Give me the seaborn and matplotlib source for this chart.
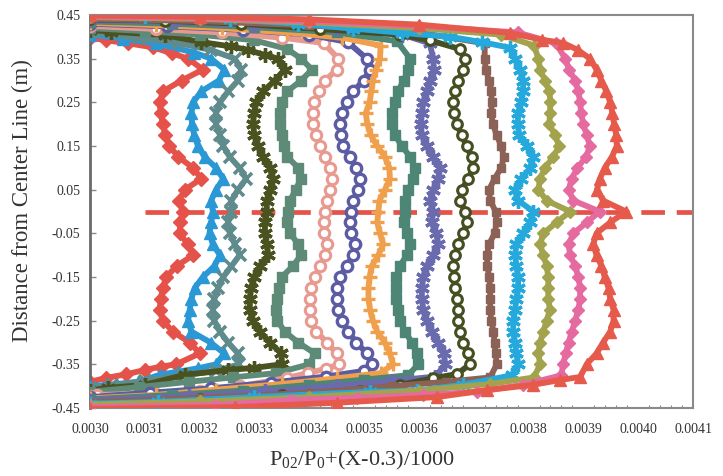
import matplotlib
matplotlib.use("Agg")
import matplotlib.pyplot as plt
import pandas as pd
import seaborn as sns
from matplotlib.ticker import MultipleLocator, FormatStrFormatter

# ---------------------------------------------------------------------------
# Total-pressure profiles across the duct, one curve per measuring station.
# Core region: shared y grid (m); wall regions: separate short lists.
# ---------------------------------------------------------------------------
Y_CORE = [0.35, 0.325, 0.30, 0.275, 0.25, 0.225, 0.20, 0.175, 0.15, 0.125,
          0.10, 0.075, 0.05, 0.025, 0.0, -0.025, -0.05, -0.075, -0.10,
          -0.125, -0.15, -0.175, -0.20, -0.225, -0.25, -0.275, -0.30,
          -0.325, -0.35]

S01 = [0.003179, 0.003206, 0.003167, 0.003133, 0.003127, 0.003129, 0.003133, 0.003137, 0.003145, 0.003161,
       0.003188, 0.003203, 0.003173, 0.003162, 0.003170, 0.003164, 0.003164, 0.003178, 0.003188, 0.003158,
       0.003139, 0.003133, 0.003129, 0.003127, 0.003133, 0.003151, 0.003182, 0.003200, 0.003157]
S02 = [0.003221, 0.003245, 0.003235, 0.003203, 0.003188, 0.003185, 0.003186, 0.003190, 0.003197, 0.003209,
       0.003230, 0.003243, 0.003230, 0.003221, 0.003224, 0.003221, 0.003218, 0.003224, 0.003237, 0.003227,
       0.003206, 0.003191, 0.003185, 0.003182, 0.003179, 0.003185, 0.003220, 0.003245, 0.003230]
S03 = [0.003264, 0.003276, 0.003270, 0.003252, 0.003237, 0.003230, 0.003230, 0.003237, 0.003243, 0.003255,
       0.003273, 0.003285, 0.003270, 0.003258, 0.003258, 0.003252, 0.003255, 0.003264, 0.003273, 0.003258,
       0.003243, 0.003234, 0.003227, 0.003224, 0.003227, 0.003237, 0.003252, 0.003270, 0.003272]
S04 = [0.003343, 0.003355, 0.003337, 0.003316, 0.003303, 0.003299, 0.003297, 0.003300, 0.003306, 0.003316,
       0.003328, 0.003334, 0.003328, 0.003322, 0.003322, 0.003319, 0.003319, 0.003322, 0.003325, 0.003310,
       0.003300, 0.003294, 0.003291, 0.003291, 0.003297, 0.003310, 0.003328, 0.003349, 0.003350]
S05 = [0.003385, 0.003405, 0.003385, 0.003360, 0.003350, 0.003347, 0.003347, 0.003350, 0.003353, 0.003360,
       0.003380, 0.003385, 0.003375, 0.003365, 0.003362, 0.003360, 0.003365, 0.003380, 0.003385, 0.003370,
       0.003350, 0.003345, 0.003342, 0.003340, 0.003342, 0.003355, 0.003380, 0.003410, 0.003400]
S06 = [0.003453, 0.003450, 0.003429, 0.003417, 0.003409, 0.003406, 0.003407, 0.003412, 0.003420, 0.003429,
       0.003437, 0.003441, 0.003438, 0.003432, 0.003429, 0.003426, 0.003426, 0.003432, 0.003429, 0.003420,
       0.003410, 0.003404, 0.003401, 0.003401, 0.003404, 0.003413, 0.003432, 0.003450, 0.003455]
S07 = [0.003505, 0.003511, 0.003499, 0.003480, 0.003468, 0.003459, 0.003456, 0.003457, 0.003462, 0.003474,
       0.003486, 0.003492, 0.003489, 0.003480, 0.003477, 0.003474, 0.003477, 0.003483, 0.003480, 0.003468,
       0.003456, 0.003450, 0.003450, 0.003453, 0.003459, 0.003471, 0.003486, 0.003505, 0.003514]
S08 = [0.003529, 0.003522, 0.003516, 0.003513, 0.003510, 0.003503, 0.003506, 0.003512, 0.003524, 0.003538,
       0.003546, 0.003547, 0.003538, 0.003528, 0.003526, 0.003524, 0.003529, 0.003535, 0.003526, 0.003514,
       0.003510, 0.003508, 0.003508, 0.003511, 0.003516, 0.003524, 0.003538, 0.003547, 0.003553]
S09 = [0.003584, 0.003581, 0.003572, 0.003562, 0.003556, 0.003550, 0.003550, 0.003556, 0.003569, 0.003584,
       0.003593, 0.003590, 0.003581, 0.003575, 0.003575, 0.003572, 0.003578, 0.003584, 0.003578, 0.003565,
       0.003559, 0.003558, 0.003558, 0.003561, 0.003565, 0.003575, 0.003587, 0.003596, 0.003599]
S10 = [0.003626, 0.003627, 0.003620, 0.003614, 0.003608, 0.003605, 0.003603, 0.003605, 0.003614, 0.003626,
       0.003638, 0.003635, 0.003626, 0.003620, 0.003626, 0.003623, 0.003632, 0.003635, 0.003626, 0.003614,
       0.003608, 0.003605, 0.003605, 0.003608, 0.003614, 0.003623, 0.003635, 0.003645, 0.003648]
S11 = [0.003684, 0.003681, 0.003672, 0.003666, 0.003663, 0.003664, 0.003669, 0.003678, 0.003687, 0.003696,
       0.003699, 0.003690, 0.003678, 0.003675, 0.003684, 0.003687, 0.003681, 0.003672, 0.003666, 0.003663,
       0.003664, 0.003666, 0.003669, 0.003672, 0.003672, 0.003675, 0.003681, 0.003690, 0.003693]
S12 = [0.003720, 0.003722, 0.003728, 0.003732, 0.003733, 0.003732, 0.003735, 0.003742, 0.003750, 0.003755,
       0.003750, 0.003738, 0.003728, 0.003730, 0.003740, 0.003742, 0.003738, 0.003728, 0.003724, 0.003725,
       0.003728, 0.003730, 0.003730, 0.003730, 0.003732, 0.003736, 0.003738, 0.003740, 0.003742]
S13 = [0.003775, 0.003784, 0.003790, 0.003790, 0.003786, 0.003781, 0.003780, 0.003783, 0.003797, 0.003808,
       0.003803, 0.003787, 0.003775, 0.003781, 0.003809, 0.003803, 0.003790, 0.003778, 0.003775, 0.003778,
       0.003781, 0.003781, 0.003778, 0.003775, 0.003772, 0.003772, 0.003775, 0.003778, 0.003781]
S14 = [0.003818, 0.003821, 0.003830, 0.003838, 0.003840, 0.003839, 0.003838, 0.003848, 0.003856, 0.003845,
       0.003830, 0.003821, 0.003818, 0.003833, 0.003876, 0.003851, 0.003827, 0.003821, 0.003827, 0.003833,
       0.003836, 0.003836, 0.003836, 0.003839, 0.003833, 0.003827, 0.003821, 0.003818, 0.003821]
S15 = [0.003867, 0.003874, 0.003885, 0.003891, 0.003894, 0.003896, 0.003900, 0.003906, 0.003912, 0.003905,
       0.003889, 0.003879, 0.003873, 0.003882, 0.003930, 0.003906, 0.003882, 0.003873, 0.003876, 0.003885,
       0.003891, 0.003894, 0.003894, 0.003891, 0.003885, 0.003879, 0.003873, 0.003868, 0.003863]
S16 = [0.003912, 0.003924, 0.003933, 0.003942, 0.003949, 0.003953, 0.003956, 0.003960, 0.003961, 0.003952,
       0.003939, 0.003930, 0.003925, 0.003936, 0.003978, 0.003949, 0.003924, 0.003918, 0.003924, 0.003933,
       0.003939, 0.003946, 0.003949, 0.003955, 0.003955, 0.003949, 0.003936, 0.003924, 0.003906]

# Upper wall region (from the wall towards the core), per station
TOP_WALL_X = [
    [0.003000, 0.003030, 0.003070, 0.003115, 0.003150],
    [0.003000, 0.003060, 0.003120, 0.003190],
    [0.003000, 0.003090, 0.003160, 0.003220],
    [0.003000, 0.003038, 0.003136, 0.003203, 0.003257, 0.003288, 0.003320],
    [0.003000, 0.003100, 0.003200, 0.003300, 0.003360],
    [0.003000, 0.003120, 0.003240, 0.003350, 0.003426],
    [0.003000, 0.003140, 0.003280, 0.003400, 0.003470],
    [0.003000, 0.003120, 0.003240, 0.003360, 0.003460, 0.003530],
    [0.003000, 0.003150, 0.003300, 0.003450, 0.003560],
    [0.003000, 0.003150, 0.003300, 0.003450, 0.003570, 0.003620],
    [0.003000, 0.003136, 0.003275, 0.003420, 0.003566, 0.003620, 0.003675],
    [0.003000, 0.003200, 0.003400, 0.003600, 0.003720],
    [0.003000, 0.003100, 0.003255, 0.003380, 0.003480, 0.003570, 0.003657, 0.003715, 0.003766],
    [0.003000, 0.003200, 0.003400, 0.003600, 0.003750, 0.003810],
    [0.003000, 0.003200, 0.003400, 0.003600, 0.003780, 0.003850],
    [0.003000, 0.003200, 0.003400, 0.003600, 0.003766, 0.003825, 0.003863, 0.003890],
]
TOP_WALL_Y = [
    [0.398, 0.392, 0.385, 0.376, 0.362],
    [0.405, 0.396, 0.385, 0.364],
    [0.410, 0.397, 0.386, 0.370],
    [0.416, 0.412, 0.404, 0.388, 0.378, 0.370, 0.358],
    [0.420, 0.413, 0.405, 0.392, 0.372],
    [0.425, 0.418, 0.410, 0.398, 0.386],
    [0.430, 0.424, 0.416, 0.405, 0.388],
    [0.432, 0.427, 0.420, 0.410, 0.398, 0.380],
    [0.435, 0.430, 0.422, 0.410, 0.390],
    [0.438, 0.434, 0.427, 0.417, 0.405, 0.385],
    [0.440, 0.437, 0.430, 0.418, 0.405, 0.392, 0.372],
    [0.441, 0.436, 0.426, 0.410, 0.385],
    [0.450, 0.448, 0.440, 0.430, 0.419, 0.409, 0.400, 0.388, 0.375],
    [0.445, 0.441, 0.433, 0.420, 0.405, 0.380],
    [0.447, 0.443, 0.436, 0.425, 0.410, 0.385],
    [0.449, 0.446, 0.440, 0.428, 0.409, 0.393, 0.386, 0.370],
]

# Lower wall region (from the core towards the wall), per station
BOT_WALL_X = [
    [0.003130, 0.003100, 0.003065, 0.003030, 0.003000],
    [0.003197, 0.003160, 0.003127, 0.003088, 0.003033, 0.003000],
    [0.003230, 0.003170, 0.003100, 0.003040, 0.003000],
    [0.003300, 0.003252, 0.003173, 0.003100, 0.003033, 0.003000],
    [0.003340, 0.003260, 0.003180, 0.003090, 0.003000],
    [0.003430, 0.003398, 0.003360, 0.003274, 0.003200, 0.003120, 0.003013, 0.003000],
    [0.003500, 0.003430, 0.003330, 0.003220, 0.003110, 0.003000],
    [0.003530, 0.003450, 0.003350, 0.003230, 0.003120, 0.003000],
    [0.003580, 0.003500, 0.003400, 0.003280, 0.003150, 0.003000],
    [0.003630, 0.003550, 0.003450, 0.003320, 0.003180, 0.003000],
    [0.003670, 0.003626, 0.003566, 0.003492, 0.003350, 0.003200, 0.003000],
    [0.003730, 0.003650, 0.003550, 0.003400, 0.003200, 0.003000],
    [0.003770, 0.003680, 0.003597, 0.003510, 0.003300, 0.003124, 0.003000],
    [0.003810, 0.003730, 0.003600, 0.003400, 0.003200, 0.003000],
    [0.003860, 0.003790, 0.003706, 0.003607, 0.003487, 0.003367, 0.003228, 0.003000],
    [0.003894, 0.003857, 0.003808, 0.003724, 0.003633, 0.003450, 0.003264, 0.003000],
]
BOT_WALL_Y = [
    [-0.355, -0.363, -0.373, -0.381, -0.390],
    [-0.359, -0.367, -0.374, -0.390, -0.397, -0.400],
    [-0.365, -0.375, -0.388, -0.398, -0.405],
    [-0.358, -0.363, -0.374, -0.397, -0.404, -0.410],
    [-0.370, -0.380, -0.390, -0.402, -0.413],
    [-0.360, -0.370, -0.381, -0.400, -0.410, -0.417, -0.420, -0.422],
    [-0.365, -0.378, -0.392, -0.405, -0.415, -0.425],
    [-0.370, -0.382, -0.395, -0.408, -0.420, -0.428],
    [-0.375, -0.385, -0.397, -0.410, -0.420, -0.430],
    [-0.378, -0.388, -0.400, -0.412, -0.423, -0.433],
    [-0.372, -0.382, -0.397, -0.410, -0.420, -0.430, -0.440],
    [-0.380, -0.390, -0.400, -0.415, -0.427, -0.437],
    [-0.375, -0.397, -0.410, -0.413, -0.425, -0.436, -0.440],
    [-0.380, -0.395, -0.410, -0.425, -0.435, -0.442],
    [-0.375, -0.397, -0.413, -0.420, -0.427, -0.432, -0.443, -0.448],
    [-0.379, -0.386, -0.397, -0.409, -0.425, -0.438, -0.448, -0.452],
]

# Centre-line marker
CENTER_X = [0.0031, 0.0041]
CENTER_Y = [0.0, 0.0]

CORES = [S01, S02, S03, S04, S05, S06, S07, S08,
         S09, S10, S11, S12, S13, S14, S15, S16]

ASTERISK = (6, 2, 0)
# colour, marker, marker size, marker edge width, open marker
STYLES = [
    ("#e4524a", "D", 7.0, 1.0, False),
    ("#2b98d6", "^", 8.0, 1.0, False),
    ("#5f8b8c", "x", 8.5, 2.6, False),
    ("#4a5220", ASTERISK, 10.5, 2.4, False),
    ("#5e8a78", "s", 6.5, 1.0, False),
    ("#e99a90", "o", 7.5, 2.2, True),
    ("#5b5ca3", "o", 7.5, 2.4, True),
    ("#f0a04c", "+", 9.5, 2.4, False),
    ("#4e8676", "s", 6.5, 1.0, False),
    ("#6a6aae", ASTERISK, 10.5, 2.4, False),
    ("#454f22", "o", 7.0, 2.2, True),
    ("#8c6257", "s", 5.5, 1.0, False),
    ("#25a9dd", ASTERISK, 10.5, 2.4, False),
    ("#a3a34e", "D", 6.5, 1.0, False),
    ("#e46aa0", "D", 6.5, 1.0, False),
    ("#e65a4c", "^", 8.0, 1.0, False),
]

sns.set_theme(style="white")
plt.rcParams["font.family"] = ["Liberation Serif", "DejaVu Serif"]
plt.rcParams["mathtext.fontset"] = "custom"
plt.rcParams["mathtext.rm"] = "Liberation Serif"
plt.rcParams["mathtext.it"] = "Liberation Serif:italic"

fig = plt.figure(figsize=(7.23, 4.76), dpi=100)
ax = fig.add_axes([90 / 723, 1 - 408 / 476, 603 / 723, 393 / 476])

sns.lineplot(x=CENTER_X, y=CENTER_Y, ax=ax, color="#e4524a", linewidth=3.4,
             linestyle=(0, (5.0, 2.5)), zorder=1)

for i, (core, style) in enumerate(zip(CORES, STYLES)):
    color, marker, msize, mew, hollow = style
    xs = TOP_WALL_X[i] + core + BOT_WALL_X[i]
    ys = TOP_WALL_Y[i] + Y_CORE + BOT_WALL_Y[i]
    df = pd.DataFrame({"x": xs, "y": ys})
    sns.lineplot(data=df, x="x", y="y", ax=ax, sort=False, estimator=None,
                 color=color, linewidth=4.2, marker=marker, markersize=msize,
                 markeredgecolor=color, markeredgewidth=mew,
                 markerfacecolor="white" if hollow else color, zorder=2 + i)

ax.set_xlim(0.0030, 0.0041)
ax.set_ylim(-0.45, 0.45)
ax.xaxis.set_major_locator(MultipleLocator(0.0001))
ax.xaxis.set_minor_locator(MultipleLocator(0.00002))
ax.xaxis.set_major_formatter(FormatStrFormatter("%.4f"))
ax.set_yticks([0.45, 0.35, 0.25, 0.15, 0.05, -0.05, -0.15, -0.25, -0.35, -0.45])
ax.yaxis.set_major_formatter(FormatStrFormatter("%.2f"))

ax.tick_params(axis="x", which="major", direction="in", length=4, width=1,
               color="#888888", labelsize=10, pad=11, labelcolor="#333333")
ax.tick_params(axis="x", which="minor", direction="in", length=2.5, width=0.8,
               color="#888888", bottom=True)
ax.tick_params(axis="y", which="major", direction="in", length=4, width=1,
               color="#888888", labelsize=10, pad=7, labelcolor="#333333", left=True)

for side in ["top", "right", "bottom"]:
    ax.spines[side].set_color("#8a8a8a")
    ax.spines[side].set_linewidth(1.5)
ax.spines["left"].set_color("#6a6a6a")
ax.spines["left"].set_linewidth(2.0)

ax.set_xlabel(r"P$_{\mathrm{02}}$/P$_{\mathrm{0}}$+(X-0.3)/1000", fontsize=16,
              color="#333333")
ax.set_ylabel("Distance from Center Line (m)", fontsize=16.5, color="#333333")
ax.xaxis.set_label_coords((362 - 90) / 603, -0.104)
ax.yaxis.set_label_coords(-0.094, 0.527)

fig.savefig("out.png", dpi=100)
